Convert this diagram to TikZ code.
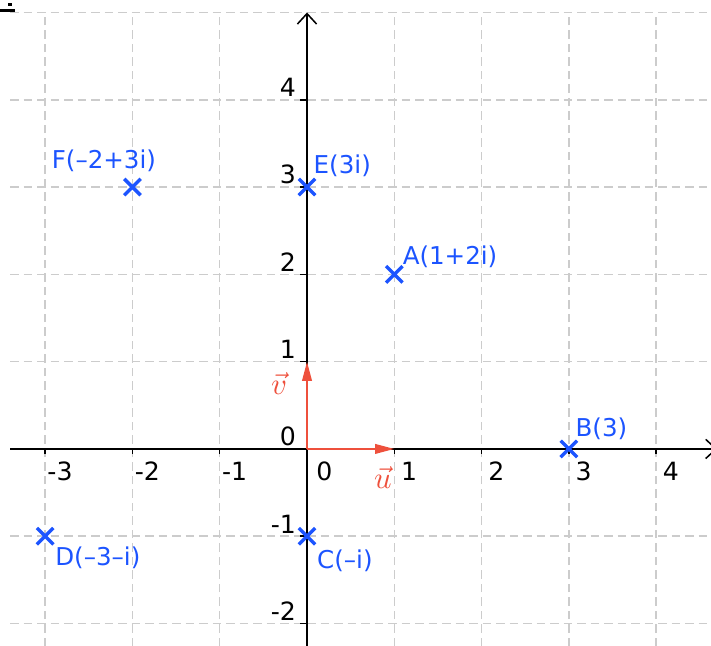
\documentclass[tikz,border=0pt]{standalone}
\usepackage{fontspec}
\setmainfont{DejaVu Sans}
\usetikzlibrary{arrows.meta, shapes.misc}
\definecolor{ptblue}{RGB}{28,84,255}
\definecolor{vecred}{RGB}{238,80,60}

\begin{document}
\begin{tikzpicture}[
        gridline/.style={draw=gray!40, line width=0.5pt, dash pattern=on 2.8pt off 1.6pt},
        axis/.style={-{Straight Barb[length=1.2mm, width=2.2mm]}, line width=0.5pt},
        vec/.style={-{Triangle[length=2.2mm, width=1.1mm]}, draw=vecred, line width=0.6pt},
        pt/.style={cross out, draw=ptblue, line width=1.1pt, minimum size=0.15cm, inner sep=0pt},
        pt_label/.style={text=ptblue, font=\fontsize{8}{9}\selectfont, inner sep=0pt, anchor=base west},
        tick_label/.style={font=\fontsize{8.2}{9}\selectfont, inner sep=0pt},
        vec_label/.style={text=vecred, inner sep=0pt}
    ]
        \useasboundingbox (-3.517,-2.257) rectangle (4.628,5.143);

        % cut-off mark in the corner
        \fill (-3.425,5.074) rectangle (-3.379,5.109);
        \draw[line width=0.7pt] (-3.517,5.023) -- (-3.345,5.023);

        \draw[gridline] (-3.4,-2.26) grid (4.63,5);

        \coordinate (O) at (0,0);
        \coordinate (xstart) at (-3.4,0);
        \coordinate (xend) at (4.7,0);
        \coordinate (ystart) at (0,-2.3);
        \coordinate (yend) at (0,5);
        \draw[axis] (xstart) -- (xend);
        \draw[axis] (ystart) -- (yend);

        \foreach \x in {-3,-2,-1,0,1,2,3,4}
            \draw[line width=0.5pt] (\x,0) -- (\x,-0.06);
        \foreach \y in {-2,-1,0,1,2,3,4}
            \draw[line width=0.5pt] (0,\y) -- (-0.08,\y);

        \foreach \x in {-3,-2,-1}
            \node[tick_label, anchor=north west] at (\x+0.02,-0.14) {\x};
        \foreach \x in {1,2,3,4}
            \node[tick_label, anchor=north west] at (\x+0.07,-0.14) {\x};
        \node[tick_label, anchor=north west] (x0) at (0.10,-0.14) {0};
        \foreach \y in {-2,-1,1,2,3,4}
            \node[tick_label, anchor=south east] at (-0.12,\y+0.03) {\y};
        \node[tick_label, anchor=south east] (y0) at (-0.12,0.03) {0};

        % unit vectors
        \coordinate (U) at (1,0);
        \coordinate (V) at (0,1);
        \draw[vec] (O) -- (U);
        \draw[vec] (O) -- (V);
        \node[vec_label] (labu) at (0.87,-0.33) {$\vec{u}$};
        \node[vec_label] (labv) at (-0.32,0.75) {$\vec{v}$};

        % points
        \node[pt] (A) at (1,2) {};
        \node[pt] (B) at (3,0) {};
        \node[pt] (C) at (0,-1) {};
        \node[pt] (D) at (-3,-1) {};
        \node[pt] (E) at (0,3) {};
        \node[pt] (F) at (-2,3) {};

        \node[pt_label] (labA) at ([shift={(0.09,0.11)}]A.center) {A(1+2i)};
        \node[pt_label] (labB) at ([shift={(0.07,0.14)}]B.center) {B(3)};
        \node[pt_label] (labC) at ([shift={(0.11,-0.37)}]C.center) {C(–i)};
        \node[pt_label] (labD) at ([shift={(0.11,-0.33)}]D.center) {D(–3–i)};
        \node[pt_label] (labE) at ([shift={(0.07,0.15)}]E.center) {E(3i)};
        \node[pt_label] (labF) at ([shift={(-0.93,0.21)}]F.center) {F(–2+3i)};

    \end{tikzpicture}
\end{document}
